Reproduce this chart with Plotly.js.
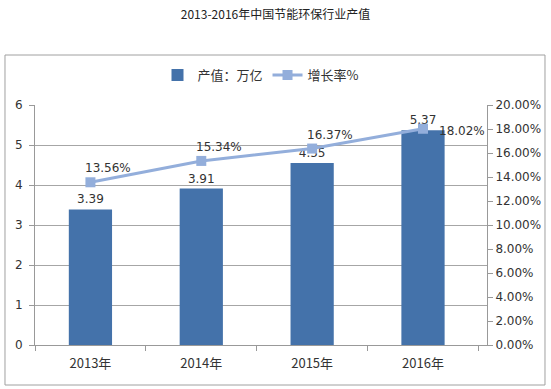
<!DOCTYPE html>
<html><head><meta charset="utf-8">
<script src="https://cdn.plot.ly/plotly-3.0.1.min.js"></script>
<style>body{margin:0;background:#fff}#c{width:551px;height:389px}</style>
</head><body><div id="c"></div>
<script>
const categories = ['2013年','2014年','2015年','2016年'];
const outputValues = [3.39, 3.91, 4.55, 5.37];
const growthRates = [13.56, 15.34, 16.37, 18.02];
const leftTicks = [0,1,2,3,4,5,6];
const rightTicks = [0,2,4,6,8,10,12,14,16,18,20];

const fontFam = '"Noto Sans CJK SC", "DejaVu Sans", sans-serif';
const traces = [
  {type:'bar', name:'产值：万亿', x:categories, y:outputValues, width:0.39,
   marker:{color:'#4472AA'}, text:outputValues.map(v=>v.toFixed(2)), textposition:'outside',
   textfont:{size:12,color:'#333',family:'DejaVu Sans'}, cliponaxis:false},
  {type:'scatter', mode:'lines+markers', name:'增长率%', x:categories, y:growthRates, yaxis:'y2',
   line:{color:'#93AEDB',width:3}, marker:{symbol:'square',size:10,color:'#93AEDB'}, cliponaxis:false}
];
const last = growthRates.length - 1;
const annotations = growthRates.map((v,i)=>({
  x:categories[i], y:v, xref:'x', yref:'y2', text:v.toFixed(2)+'%', showarrow:false,
  xanchor:'left', yanchor: i===last ? 'middle' : 'bottom',
  xshift: i===last ? 14 : -7, yshift: i===last ? -2 : 5,
  font:{size:12,color:'#333',family:'DejaVu Sans'}
}));
const layout = {
  width:551, height:389, margin:{l:35,r:64,t:105,b:44,autoexpand:false},
  paper_bgcolor:'#fff', plot_bgcolor:'#fff',
  font:{family:fontFam,color:'#333'},
  title:{text:'2013-2016年中国节能环保行业产值', x:0.5, xanchor:'center', y:0.961, yanchor:'middle',
         font:{size:12,color:'#222',family:fontFam}},
  showlegend:true,
  legend:{orientation:'h', x:0.5, xanchor:'center', y:1.125, yanchor:'middle',
          font:{size:13,color:'#333',family:fontFam}, itemwidth:30},
  xaxis:{type:'category', showline:true, linecolor:'#999', ticks:'outside', tickson:'boundaries',
         ticklen:5, tickcolor:'#999', tickfont:{size:13,color:'#333',family:fontFam}, showgrid:false,
         ticklabelstandoff:6, automargin:false},
  yaxis:{range:[0,6], tickvals:leftTicks, showline:true, linecolor:'#999', ticks:'outside', ticklen:5,
         tickcolor:'#999', gridcolor:'#A6A6A6', gridwidth:1, zeroline:false, ticklabelstandoff:4,
         tickfont:{size:12,color:'#333',family:'DejaVu Sans'}, automargin:false},
  yaxis2:{overlaying:'y', side:'right', range:[0,20], tickvals:rightTicks,
          ticktext:rightTicks.map(v=>v.toFixed(2)+'%'), showline:true, linecolor:'#999',
          ticks:'outside', ticklen:5, tickcolor:'#999', showgrid:false, zeroline:false,
          tickfont:{size:12,color:'#333',family:'DejaVu Sans'}, automargin:false},
  bargap:0.6,
  annotations: annotations,
  shapes:[{type:'rect', xref:'paper', yref:'paper', x0:-0.0664, x1:1.1283, y0:-0.1667, y1:1.2083,
           line:{color:'#A0A0A0',width:1}, fillcolor:'rgba(0,0,0,0)', layer:'below'}]
};
Plotly.newPlot('c', traces, layout, {displayModeBar:false});
</script></body></html>
